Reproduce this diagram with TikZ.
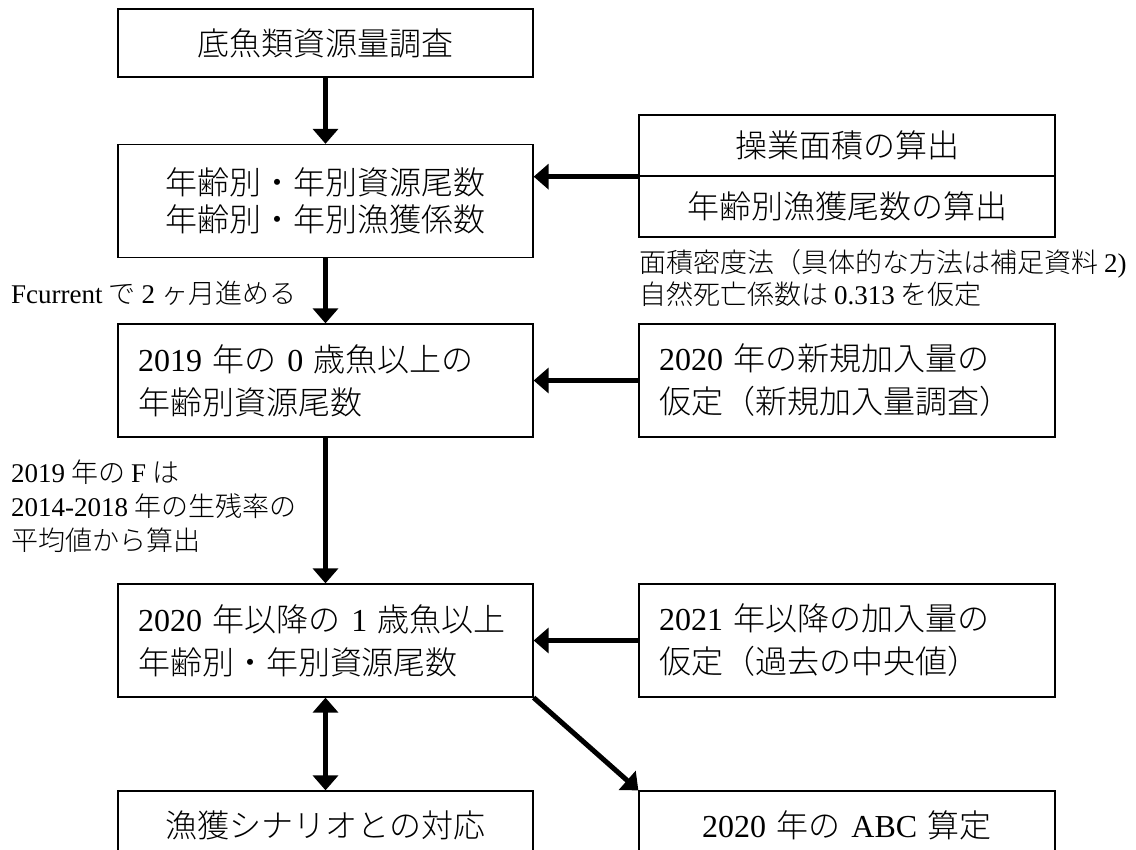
\documentclass[tikz,border=0pt]{standalone}
\usepackage{fontspec}
\IfFontExistsTF{Noto Sans CJK JP Light}{\setmainfont{Noto Sans CJK JP Light}}{\setmainfont{Noto Sans CJK JP}}
\newfontfamily\lat{Liberation Serif}
\usetikzlibrary{arrows.meta}
\tikzset{
  box/.style={draw=black, line width=1.3pt, inner ysep=0pt, inner xsep=20pt,
    minimum height=113pt, font=\fontsize{32}{43}\selectfont},
  lbox/.style={box, text width=375pt},
  rbox/.style={box, text width=376pt},
  note/.style={inner sep=0pt, font=\fontsize{27}{34}\selectfont, align=left},
  conn/.style={line width=5pt, -{Triangle[length=15pt,width=25pt]}},
  bconn/.style={line width=5pt, {Triangle[length=15pt,width=25pt]}-{Triangle[length=15pt,width=25pt]}}
}
\begin{document}
\begin{tikzpicture}[x=1pt,y=-1pt]
\useasboundingbox (0,0) rectangle (1136,850);
\clip (0,0) rectangle (1136,850);
% left column
\node[lbox, align=center, minimum height=68pt] (b1) at (325.5,43) {底魚類資源量調査};
\node[lbox, align=center, font=\fontsize{32}{37}\selectfont] (b2) at (325.5,201) {年齢別・年別資源尾数\\年齢別・年別漁獲係数};
\node[lbox, align=left] (b3) at (325.5,380.5) {{\lat 2019} 年の {\lat 0} 歳魚以上の\\年齢別資源尾数};
\node[lbox, align=left] (b4) at (325.5,640.5) {{\lat 2020} 年以降の {\lat 1} 歳魚以上\\年齢別・年別資源尾数};
\node[lbox, align=center, minimum height=68pt] (b5) at (325.5,825) {漁獲シナリオとの対応};
% right column
\node[rbox, align=center, minimum height=61pt] (rA) at (847,145.5) {操業面積の算出};
\node[rbox, align=center, minimum height=61pt] (rB) at (847,206.5) {年齢別漁獲尾数の算出};
\node[rbox, align=left] (r3) at (847,380.5) {{\lat 2020} 年の新規加入量の\\仮定（新規加入量調査）};
\node[rbox, align=left] (r4) at (847,640.5) {{\lat 2021} 年以降の加入量の\\仮定（過去の中央値）};
\node[rbox, align=center, minimum height=68pt] (r5) at (847,825) {{\lat 2020} 年の {\lat ABC} 算定};
% notes
\node[note, anchor=west] (n1) at (639,264) {面積密度法（具体的な方法は補足資料 {\lat 2)}};
\node[note, anchor=west] (n2) at (639,294) {自然死亡係数は {\lat 0.313} を仮定};
\node[note, anchor=west] (n3) at (11,293) {{\lat Fcurrent} で {\lat 2} ヶ月進める};
\node[note, anchor=west] (n4) at (11,506.5) {{\lat 2019} 年の {\lat F} は\\{\lat 2014-2018} 年の生残率の\\平均値から算出};
% connectors
\coordinate (split) at (rA.south west);
\draw[conn] (b1) -- (b2);
\draw[conn] (b2) -- (b3);
\draw[conn] (b3) -- (b4);
\draw[bconn] (b4) -- (b5);
\draw[conn] (split) -- (b2.east |- split);
\draw[conn] (r3) -- (b3);
\draw[conn] (r4) -- (b4);
\draw[conn] (b4.south east) -- (r5.north west);
\end{tikzpicture}
\end{document}
